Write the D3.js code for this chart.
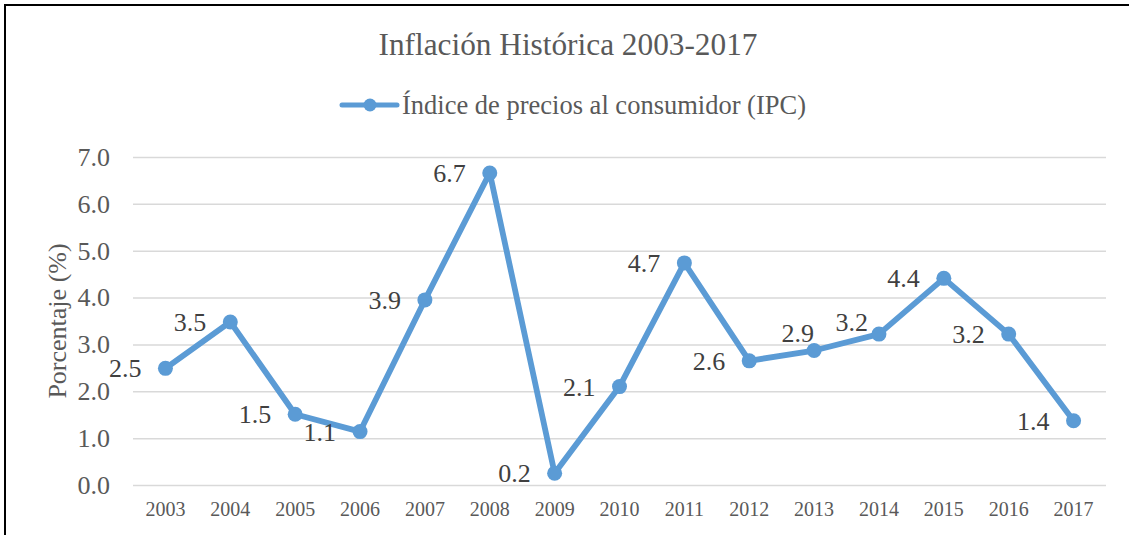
<!DOCTYPE html>
<html>
<head>
<meta charset="utf-8">
<script src="https://cdn.jsdelivr.net/npm/d3@7"></script>
<style>
  body { margin: 0; background: #fff; }
  text { font-family: "Liberation Serif", "Times New Roman", serif; }
</style>
</head>
<body>
<svg id="chart" width="1129" height="535"></svg>
<script>
// datos
var years = ["2003", "2004", "2005", "2006", "2007", "2008", "2009", "2010",
  "2011", "2012", "2013", "2014", "2015", "2016", "2017"];
var ipc = [2.49, 3.48, 1.51, 1.14, 3.95, 6.66, 0.25, 2.10, 4.74, 2.65, 2.87, 3.22, 4.41, 3.22, 1.37];
var ipcLabels = ["2.5", "3.5", "1.5", "1.1", "3.9", "6.7", "0.2", "2.1", "4.7", "2.6", "2.9", "3.2", "4.4", "3.2", "1.4"];
var yTicks = [0, 1, 2, 3, 4, 5, 6, 7];

// etiquetas que Excel desplazo para que no se pisen (dx, dy en px)
var labelNudge = {"2013": [24, -18], "2014": [13, -12]};

var svg = d3.select("#chart"),
  width = +svg.attr("width"),
  height = +svg.attr("height");

var margin = {left: 133, right: 23, top: 157, bottom: 50};
var blue = "#5B9BD5";

var x = d3.scaleBand()
  .domain(years)
  .range([margin.left, width - margin.right]);

var y = d3.scaleLinear()
  .domain([0, 7])
  .range([height - margin.bottom, margin.top]);

function cx(i) { return x(years[i]) + x.bandwidth() / 2; }

// marco (solo arriba e izquierda se ven)
svg.append("path")
  .attr("d", "M5,540 L5,5 L1135,5")
  .attr("fill", "none")
  .attr("stroke", "#000")
  .attr("stroke-width", 2);

// titulo
svg.append("text")
  .attr("x", 568)
  .attr("y", 55)
  .attr("text-anchor", "middle")
  .attr("font-size", 31.3)
  .attr("fill", "#595959")
  .text("Inflación Histórica 2003-2017");

// leyenda
var leg = svg.append("g").attr("transform", "translate(342,105)");
leg.append("line")
  .attr("x1", 0).attr("x2", 55)
  .attr("stroke", blue)
  .attr("stroke-width", 5)
  .attr("stroke-linecap", "round");
leg.append("circle")
  .attr("cx", 28).attr("r", 6.5)
  .attr("fill", blue);
leg.append("text")
  .attr("x", 60)
  .attr("y", 9)
  .attr("font-size", 26.5)
  .attr("fill", "#595959")
  .text("Índice de precios al consumidor (IPC)");

// grilla y eje y
var yAxis = d3.axisLeft(y)
  .tickValues(yTicks)
  .tickFormat(d3.format(".1f"))
  .tickSize(-(width - margin.left - margin.right))
  .tickPadding(23);

var gy = svg.append("g")
  .attr("transform", "translate(" + margin.left + ",0)")
  .call(yAxis);
gy.select(".domain").remove();
gy.selectAll(".tick line")
  .attr("stroke", "#D9D9D9")
  .attr("stroke-width", 1.5);
gy.selectAll(".tick text")
  .attr("font-size", 26)
  .attr("font-family", "Liberation Serif, Times New Roman, serif")
  .attr("fill", "#595959");

// eje x
var xAxis = d3.axisBottom(x).tickSize(0).tickPadding(17);
var gx = svg.append("g")
  .attr("transform", "translate(0," + (height - margin.bottom) + ")")
  .call(xAxis);
gx.select(".domain").remove();
gx.selectAll(".tick text")
  .attr("font-size", 20)
  .attr("font-family", "Liberation Serif, Times New Roman, serif")
  .attr("fill", "#595959");

// titulo eje y
svg.append("text")
  .attr("transform", "translate(66," + y(3.5) + ") rotate(-90)")
  .attr("text-anchor", "middle")
  .attr("font-size", 26)
  .attr("fill", "#595959")
  .text("Porcentaje (%)");

// linea
var line = d3.line()
  .x(function(d, i) { return cx(i); })
  .y(function(d) { return y(d); });

svg.append("path")
  .datum(ipc)
  .attr("d", line)
  .attr("fill", "none")
  .attr("stroke", blue)
  .attr("stroke-width", 5.8)
  .attr("stroke-linejoin", "round");

svg.selectAll(".pt")
  .data(ipc)
  .enter()
  .append("circle")
  .attr("class", "pt")
  .attr("cx", function(d, i) { return cx(i); })
  .attr("cy", function(d) { return y(d); })
  .attr("r", 7.5)
  .attr("fill", blue);

// etiquetas de datos (a la izquierda)
function nudge(i) { return labelNudge[years[i]] || [0, 0]; }

svg.selectAll(".lbl")
  .data(ipc)
  .enter()
  .append("text")
  .attr("class", "lbl")
  .attr("x", function(d, i) { return cx(i) - 24 + nudge(i)[0]; })
  .attr("y", function(d, i) { return y(d) + nudge(i)[1]; })
  .attr("dy", "0.35em")
  .attr("text-anchor", "end")
  .attr("font-size", 26)
  .attr("fill", "#404040")
  .text(function(d, i) { return ipcLabels[i]; });
</script>
</body>
</html>
